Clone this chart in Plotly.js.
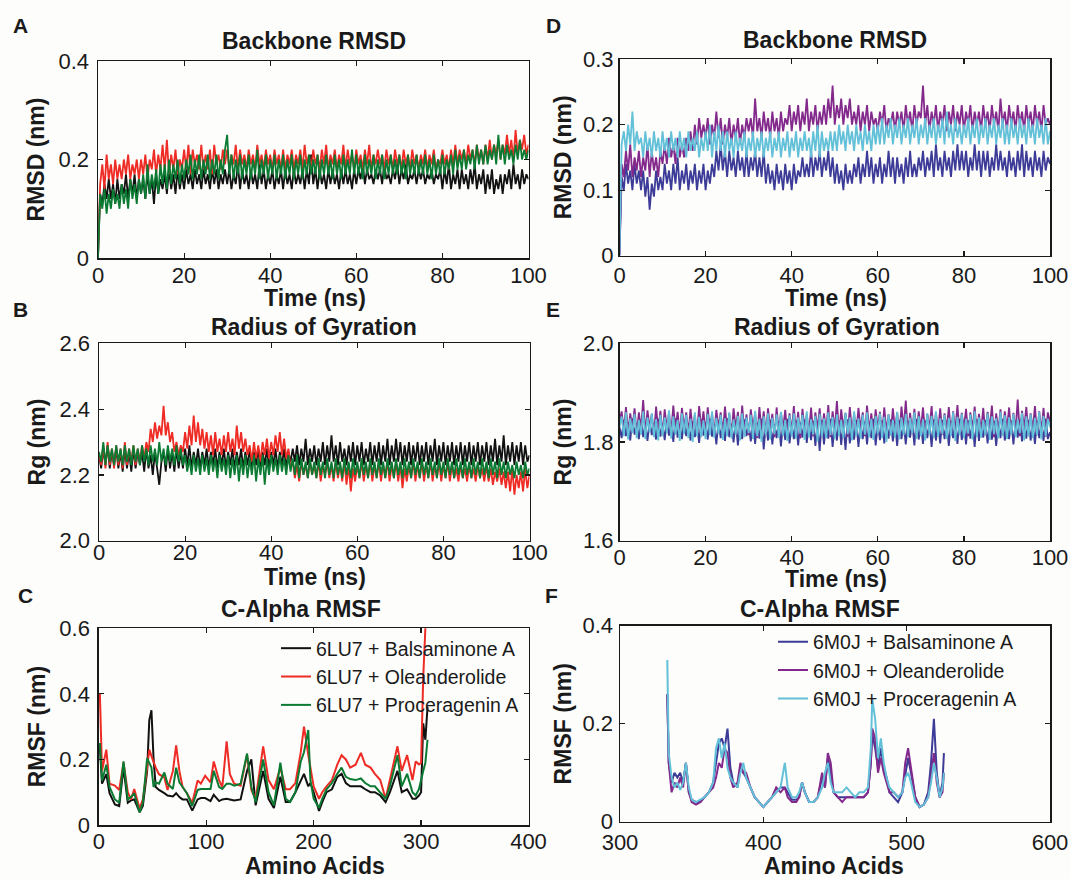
<!DOCTYPE html>
<html>
<head>
<meta charset="utf-8">
<script src="https://cdn.plot.ly/plotly-3.0.1.min.js"></script>
<style>
html,body{margin:0;padding:0;background:#fdfdfb;}
#chart{width:1070px;height:879px;}
</style>
</head>
<body>
<div id="chart"></div>
<script>
// ---------- Panel A: Backbone RMSD (6LU7), time step 0.5 ns from 0 to 100 ns ----------
const rmsdA_Balsaminone = [
0,0.13,0.11,0.15,0.12,0.16,0.12,0.15,0.11,0.16,
0.12,0.15,0.13,0.17,0.12,0.16,0.13,0.17,0.12,0.16,
0.13,0.16,0.12,0.17,0.13,0.16,0.11,0.17,0.13,0.16,
0.14,0.17,0.13,0.18,0.14,0.17,0.13,0.18,0.14,0.17,
0.14,0.18,0.15,0.17,0.14,0.18,0.15,0.17,0.14,0.18,
0.15,0.17,0.14,0.18,0.15,0.18,0.14,0.17,0.15,0.18,
0.15,0.18,0.14,0.17,0.15,0.19,0.14,0.18,0.15,0.17,
0.14,0.18,0.15,0.17,0.14,0.19,0.15,0.18,0.14,0.17,
0.15,0.18,0.14,0.17,0.15,0.18,0.14,0.18,0.15,0.17,
0.14,0.18,0.15,0.17,0.15,0.18,0.14,0.18,0.15,0.21,
0.15,0.18,0.14,0.18,0.15,0.17,0.14,0.18,0.15,0.18,
0.15,0.17,0.14,0.18,0.15,0.18,0.15,0.17,0.14,0.18,
0.15,0.18,0.16,0.19,0.15,0.18,0.16,0.17,0.15,0.18,
0.16,0.18,0.15,0.19,0.16,0.17,0.15,0.18,0.16,0.19,
0.15,0.18,0.16,0.19,0.15,0.17,0.16,0.18,0.15,0.18,
0.16,0.18,0.15,0.17,0.16,0.18,0.15,0.17,0.16,0.18,
0.14,0.18,0.15,0.19,0.14,0.17,0.15,0.18,0.14,0.18,
0.15,0.17,0.14,0.18,0.15,0.19,0.14,0.17,0.15,0.18,
0.13,0.17,0.14,0.18,0.13,0.16,0.14,0.17,0.13,0.17,
0.15,0.18,0.14,0.19,0.15,0.17,0.14,0.18,0.15,0.17,
0.16];
const rmsdA_Oleanderolide = [
0,0.15,0.19,0.14,0.21,0.16,0.19,0.15,0.20,0.16,
0.19,0.16,0.20,0.17,0.21,0.16,0.19,0.17,0.20,0.16,
0.20,0.17,0.21,0.16,0.20,0.18,0.22,0.17,0.21,0.18,
0.23,0.18,0.24,0.17,0.21,0.18,0.22,0.17,0.20,0.18,
0.22,0.18,0.23,0.17,0.22,0.19,0.21,0.18,0.23,0.18,
0.21,0.18,0.22,0.17,0.23,0.19,0.21,0.18,0.22,0.19,
0.22,0.18,0.21,0.19,0.23,0.18,0.22,0.19,0.21,0.18,
0.22,0.19,0.21,0.18,0.23,0.19,0.21,0.18,0.22,0.19,
0.21,0.18,0.22,0.19,0.21,0.18,0.22,0.18,0.21,0.19,
0.22,0.18,0.21,0.19,0.22,0.18,0.23,0.19,0.21,0.18,
0.22,0.19,0.21,0.18,0.22,0.19,0.23,0.18,0.21,0.19,
0.22,0.18,0.21,0.19,0.23,0.18,0.22,0.19,0.21,0.18,
0.22,0.19,0.21,0.18,0.22,0.19,0.23,0.18,0.21,0.19,
0.22,0.19,0.21,0.18,0.22,0.19,0.21,0.18,0.22,0.19,
0.21,0.18,0.22,0.19,0.21,0.18,0.22,0.19,0.21,0.18,
0.21,0.19,0.22,0.18,0.21,0.19,0.22,0.18,0.20,0.19,
0.22,0.19,0.21,0.18,0.22,0.19,0.23,0.19,0.22,0.20,
0.22,0.19,0.23,0.20,0.22,0.19,0.23,0.20,0.22,0.19,
0.23,0.20,0.24,0.20,0.23,0.21,0.24,0.20,0.23,0.21,
0.25,0.21,0.24,0.20,0.26,0.21,0.24,0.22,0.25,0.21,
0.23];
const rmsdA_Proceragenin = [
0,0.13,0.10,0.14,0.09,0.13,0.10,0.14,0.11,0.13,
0.10,0.15,0.11,0.14,0.10,0.16,0.12,0.15,0.11,0.16,
0.13,0.17,0.12,0.19,0.13,0.17,0.14,0.18,0.13,0.19,
0.15,0.19,0.14,0.20,0.15,0.19,0.16,0.20,0.15,0.19,
0.16,0.20,0.17,0.21,0.16,0.20,0.17,0.21,0.16,0.20,
0.17,0.21,0.16,0.20,0.17,0.21,0.16,0.20,0.17,0.22,
0.25,0.17,0.21,0.16,0.20,0.17,0.21,0.16,0.20,0.17,
0.21,0.16,0.20,0.17,0.22,0.16,0.20,0.17,0.21,0.16,
0.20,0.17,0.21,0.16,0.20,0.17,0.21,0.16,0.20,0.17,
0.21,0.16,0.20,0.17,0.21,0.16,0.20,0.17,0.21,0.17,
0.20,0.17,0.21,0.16,0.20,0.17,0.21,0.17,0.20,0.16,
0.21,0.17,0.20,0.16,0.21,0.17,0.20,0.17,0.22,0.17,
0.21,0.17,0.20,0.16,0.21,0.17,0.20,0.17,0.21,0.16,
0.20,0.17,0.21,0.16,0.20,0.17,0.21,0.17,0.20,0.17,
0.21,0.17,0.20,0.16,0.21,0.17,0.20,0.17,0.21,0.17,
0.20,0.17,0.21,0.17,0.20,0.16,0.21,0.17,0.20,0.17,
0.21,0.17,0.20,0.18,0.21,0.17,0.22,0.18,0.21,0.18,
0.22,0.18,0.21,0.19,0.22,0.18,0.23,0.19,0.22,0.19,
0.23,0.19,0.22,0.20,0.23,0.19,0.25,0.20,0.23,0.19,
0.23,0.20,0.22,0.19,0.23,0.20,0.24,0.20,0.22,0.20,
0.22];

// ---------- Panel B: Radius of gyration (6LU7) ----------
const rgB_Balsaminone = [
2.26,2.22,2.28,2.23,2.29,2.22,2.27,2.23,2.28,2.22,
2.27,2.21,2.28,2.22,2.27,2.21,2.28,2.22,2.27,2.23,
2.27,2.21,2.28,2.22,2.26,2.20,2.27,2.22,2.17,2.24,
2.27,2.21,2.28,2.22,2.27,2.21,2.28,2.22,2.27,2.22,
2.28,2.23,2.29,2.22,2.27,2.23,2.28,2.22,2.27,2.23,
2.28,2.22,2.27,2.23,2.28,2.22,2.27,2.23,2.28,2.22,
2.27,2.23,2.28,2.22,2.27,2.23,2.28,2.22,2.27,2.23,
2.28,2.22,2.27,2.23,2.28,2.22,2.27,2.23,2.28,2.22,
2.27,2.23,2.28,2.22,2.27,2.23,2.28,2.22,2.27,2.24,
2.28,2.24,2.29,2.23,2.28,2.24,2.31,2.23,2.28,2.24,
2.29,2.23,2.28,2.24,2.30,2.23,2.29,2.24,2.32,2.24,
2.29,2.23,2.30,2.24,2.28,2.23,2.29,2.24,2.30,2.23,
2.29,2.24,2.30,2.23,2.28,2.24,2.30,2.23,2.29,2.24,
2.30,2.23,2.29,2.24,2.31,2.23,2.29,2.24,2.31,2.24,
2.30,2.23,2.29,2.24,2.30,2.23,2.29,2.24,2.30,2.23,
2.29,2.24,2.30,2.23,2.29,2.24,2.31,2.23,2.29,2.24,
2.30,2.23,2.29,2.24,2.30,2.23,2.29,2.24,2.30,2.23,
2.29,2.24,2.30,2.23,2.29,2.24,2.30,2.23,2.29,2.24,
2.30,2.23,2.29,2.24,2.31,2.23,2.29,2.24,2.32,2.23,
2.29,2.24,2.30,2.23,2.29,2.24,2.30,2.23,2.29,2.24,
2.26];
const rgB_Oleanderolide = [
2.26,2.23,2.29,2.22,2.30,2.23,2.28,2.22,2.29,2.23,
2.28,2.22,2.30,2.23,2.28,2.24,2.29,2.23,2.28,2.24,
2.29,2.25,2.30,2.27,2.34,2.30,2.36,2.31,2.35,2.32,
2.41,2.32,2.36,2.30,2.33,2.27,2.30,2.26,2.29,2.27,
2.33,2.28,2.35,2.29,2.38,2.30,2.36,2.29,2.34,2.28,
2.33,2.27,2.32,2.26,2.33,2.27,2.31,2.26,2.32,2.27,
2.33,2.27,2.31,2.26,2.35,2.28,2.33,2.27,2.31,2.26,
2.29,2.24,2.30,2.25,2.29,2.24,2.30,2.26,2.31,2.25,
2.30,2.26,2.32,2.27,2.33,2.26,2.31,2.25,2.28,2.22,
2.24,2.19,2.23,2.18,2.24,2.20,2.23,2.19,2.24,2.20,
2.23,2.19,2.24,2.18,2.23,2.20,2.24,2.19,2.23,2.18,
2.24,2.19,2.23,2.18,2.24,2.17,2.23,2.15,2.22,2.18,
2.23,2.19,2.24,2.18,2.23,2.19,2.24,2.18,2.23,2.19,
2.24,2.18,2.23,2.19,2.24,2.18,2.23,2.19,2.24,2.18,
2.23,2.16,2.22,2.18,2.23,2.19,2.24,2.18,2.23,2.19,
2.24,2.18,2.23,2.19,2.24,2.18,2.23,2.19,2.24,2.18,
2.23,2.19,2.24,2.18,2.23,2.19,2.22,2.18,2.23,2.19,
2.22,2.18,2.23,2.19,2.22,2.18,2.23,2.19,2.22,2.18,
2.23,2.18,2.22,2.17,2.21,2.18,2.22,2.17,2.21,2.16,
2.21,2.15,2.22,2.14,2.20,2.16,2.21,2.15,2.22,2.16,
2.20];
const rgB_Proceragenin = [
2.27,2.24,2.30,2.23,2.29,2.24,2.28,2.23,2.29,2.24,
2.28,2.23,2.29,2.24,2.28,2.23,2.29,2.24,2.28,2.23,
2.29,2.24,2.28,2.23,2.29,2.24,2.28,2.23,2.30,2.24,
2.28,2.23,2.29,2.24,2.28,2.23,2.29,2.24,2.28,2.23,
2.26,2.21,2.25,2.20,2.26,2.21,2.25,2.20,2.26,2.21,
2.25,2.20,2.26,2.21,2.25,2.19,2.26,2.21,2.25,2.20,
2.26,2.19,2.25,2.20,2.26,2.18,2.25,2.20,2.26,2.19,
2.25,2.20,2.26,2.18,2.25,2.20,2.26,2.17,2.25,2.20,
2.26,2.21,2.25,2.20,2.26,2.21,2.25,2.20,2.26,2.21,
2.25,2.20,2.26,2.19,2.25,2.20,2.24,2.19,2.25,2.20,
2.24,2.19,2.25,2.20,2.24,2.19,2.25,2.20,2.24,2.19,
2.25,2.20,2.24,2.19,2.25,2.20,2.24,2.19,2.25,2.20,
2.24,2.19,2.25,2.20,2.24,2.19,2.25,2.20,2.24,2.19,
2.25,2.20,2.24,2.19,2.25,2.20,2.24,2.19,2.25,2.20,
2.24,2.19,2.25,2.20,2.24,2.19,2.25,2.20,2.24,2.19,
2.25,2.20,2.24,2.19,2.25,2.20,2.24,2.19,2.25,2.20,
2.24,2.19,2.25,2.20,2.24,2.19,2.25,2.20,2.24,2.19,
2.25,2.20,2.24,2.19,2.25,2.20,2.24,2.19,2.25,2.20,
2.24,2.19,2.25,2.20,2.24,2.19,2.25,2.20,2.24,2.19,
2.24,2.20,2.23,2.19,2.24,2.20,2.23,2.19,2.24,2.20,
2.22];

// ---------- Panel C: C-alpha RMSF (6LU7) ----------
const residuesC = [1,3,7,10,15,19,23,27,30,33,38,41,45,47,49,51,53,56,61,64,69,72,75,78,82,87,92,95,99,104,107,112,115,119,122,126,132,138,142,146,153,158,163,169,174,178,183,188,191,195,197,200,205,208,212,217,222,226,230,234,239,244,248,253,257,262,267,271,278,282,287,292,295,298,300,302,304,306];
const rmsfC_Balsaminone = [0.24,0.126,0.155,0.097,0.063,0.058,0.175,0.068,0.075,0.078,0.039,0.058,0.165,0.32,0.35,0.2,0.116,0.107,0.097,0.09,0.087,0.097,0.085,0.078,0.078,0.044,0.078,0.082,0.082,0.073,0.092,0.073,0.078,0.08,0.078,0.075,0.078,0.165,0.2,0.06,0.165,0.08,0.052,0.147,0.07,0.07,0.1,0.137,0.156,0.118,0.128,0.1,0.043,0.07,0.1,0.109,0.147,0.156,0.128,0.118,0.118,0.118,0.109,0.1,0.1,0.09,0.07,0.1,0.165,0.1,0.109,0.08,0.08,0.09,0.1,0.31,0.26,0.36];
const rmsfC_Oleanderolide = [0.40,0.165,0.23,0.126,0.12,0.107,0.19,0.10,0.078,0.11,0.05,0.078,0.175,0.23,0.21,0.19,0.175,0.155,0.145,0.107,0.165,0.243,0.165,0.116,0.097,0.068,0.136,0.126,0.15,0.13,0.194,0.136,0.116,0.255,0.155,0.126,0.12,0.213,0.107,0.08,0.24,0.137,0.109,0.175,0.109,0.109,0.128,0.222,0.3,0.213,0.175,0.118,0.08,0.1,0.118,0.137,0.184,0.213,0.2,0.175,0.184,0.22,0.184,0.175,0.156,0.137,0.08,0.137,0.24,0.165,0.213,0.137,0.194,0.185,0.19,0.45,0.6,0.65];
const rmsfC_Proceragenin = [0.25,0.136,0.184,0.116,0.078,0.068,0.194,0.078,0.085,0.097,0.039,0.068,0.204,0.19,0.175,0.116,0.13,0.126,0.16,0.126,0.11,0.175,0.13,0.116,0.097,0.058,0.107,0.11,0.11,0.11,0.165,0.116,0.11,0.126,0.126,0.12,0.126,0.218,0.116,0.07,0.2,0.1,0.06,0.19,0.08,0.07,0.1,0.194,0.222,0.29,0.137,0.08,0.052,0.08,0.109,0.128,0.156,0.175,0.147,0.14,0.137,0.142,0.128,0.118,0.118,0.1,0.08,0.118,0.213,0.118,0.156,0.1,0.09,0.109,0.14,0.165,0.19,0.26];

// ---------- Panel D: Backbone RMSD (6M0J) ----------
const rmsdD_Balsaminone = [
0,0.12,0.10,0.14,0.11,0.13,0.10,0.14,0.11,0.13,
0.10,0.13,0.09,0.12,0.07,0.11,0.09,0.13,0.10,0.12,
0.10,0.14,0.11,0.13,0.10,0.14,0.11,0.15,0.10,0.13,
0.11,0.14,0.10,0.13,0.11,0.14,0.10,0.13,0.11,0.14,
0.10,0.13,0.11,0.14,0.12,0.16,0.13,0.17,0.13,0.16,
0.12,0.16,0.13,0.15,0.12,0.16,0.13,0.15,0.12,0.16,
0.12,0.15,0.13,0.16,0.12,0.15,0.12,0.16,0.11,0.14,
0.11,0.13,0.10,0.14,0.11,0.13,0.10,0.14,0.11,0.13,
0.10,0.14,0.11,0.13,0.12,0.15,0.12,0.14,0.12,0.16,
0.12,0.15,0.13,0.16,0.12,0.15,0.13,0.16,0.12,0.15,
0.11,0.14,0.11,0.13,0.10,0.14,0.11,0.13,0.11,0.14,
0.12,0.15,0.11,0.14,0.12,0.16,0.12,0.15,0.11,0.14,
0.12,0.15,0.11,0.14,0.12,0.16,0.12,0.15,0.11,0.15,
0.12,0.14,0.11,0.15,0.12,0.16,0.12,0.14,0.12,0.15,
0.13,0.16,0.12,0.15,0.13,0.16,0.12,0.17,0.13,0.15,
0.12,0.16,0.13,0.15,0.12,0.16,0.13,0.17,0.13,0.16,
0.13,0.16,0.12,0.15,0.13,0.17,0.13,0.16,0.12,0.16,
0.13,0.16,0.12,0.15,0.13,0.17,0.13,0.16,0.13,0.15,
0.12,0.16,0.13,0.15,0.12,0.16,0.13,0.17,0.12,0.16,
0.13,0.15,0.12,0.16,0.13,0.15,0.12,0.16,0.13,0.15,
0.14];
const rmsdD_Oleanderolide = [
0,0.14,0.12,0.16,0.13,0.17,0.12,0.15,0.13,0.16,
0.12,0.15,0.13,0.17,0.12,0.16,0.13,0.15,0.12,0.16,
0.14,0.17,0.14,0.18,0.15,0.17,0.14,0.18,0.15,0.17,
0.15,0.18,0.16,0.19,0.16,0.20,0.17,0.21,0.18,0.20,
0.18,0.21,0.17,0.20,0.18,0.22,0.18,0.21,0.17,0.20,
0.18,0.21,0.17,0.20,0.18,0.21,0.17,0.20,0.18,0.21,
0.19,0.21,0.18,0.24,0.19,0.21,0.18,0.22,0.19,0.21,
0.18,0.22,0.19,0.21,0.18,0.22,0.19,0.21,0.20,0.23,
0.19,0.22,0.20,0.23,0.19,0.22,0.20,0.24,0.19,0.22,
0.20,0.23,0.19,0.22,0.20,0.23,0.20,0.24,0.21,0.26,
0.20,0.23,0.21,0.24,0.20,0.23,0.21,0.24,0.20,0.22,
0.20,0.23,0.19,0.22,0.20,0.23,0.19,0.22,0.20,0.21,
0.19,0.22,0.20,0.23,0.19,0.21,0.20,0.22,0.19,0.22,
0.20,0.22,0.19,0.23,0.20,0.22,0.19,0.23,0.20,0.22,
0.21,0.26,0.20,0.23,0.19,0.22,0.20,0.23,0.19,0.22,
0.20,0.23,0.19,0.22,0.20,0.23,0.19,0.22,0.20,0.23,
0.19,0.22,0.20,0.23,0.19,0.22,0.20,0.22,0.19,0.23,
0.20,0.22,0.19,0.23,0.20,0.22,0.19,0.24,0.20,0.22,
0.19,0.23,0.20,0.22,0.19,0.23,0.20,0.22,0.19,0.23,
0.20,0.22,0.19,0.23,0.20,0.22,0.19,0.23,0.20,0.21,
0.20];
const rmsdD_Proceragenin = [
0,0.17,0.19,0.16,0.20,0.17,0.22,0.16,0.19,0.17,
0.18,0.15,0.19,0.16,0.18,0.15,0.19,0.16,0.18,0.15,
0.19,0.16,0.18,0.15,0.19,0.16,0.18,0.15,0.19,0.16,
0.18,0.15,0.19,0.16,0.18,0.16,0.19,0.15,0.18,0.16,
0.19,0.16,0.20,0.15,0.19,0.16,0.20,0.16,0.19,0.15,
0.19,0.16,0.18,0.15,0.19,0.16,0.18,0.16,0.19,0.15,
0.18,0.16,0.19,0.15,0.18,0.16,0.19,0.15,0.18,0.16,
0.19,0.15,0.18,0.16,0.19,0.15,0.18,0.16,0.19,0.15,
0.18,0.16,0.19,0.15,0.18,0.16,0.19,0.16,0.18,0.15,
0.19,0.16,0.20,0.15,0.19,0.16,0.18,0.16,0.19,0.16,
0.19,0.16,0.20,0.17,0.19,0.16,0.20,0.17,0.19,0.16,
0.20,0.17,0.19,0.16,0.20,0.17,0.19,0.16,0.20,0.17,
0.20,0.17,0.21,0.17,0.20,0.18,0.21,0.17,0.20,0.18,
0.21,0.17,0.20,0.18,0.21,0.17,0.20,0.18,0.21,0.17,
0.20,0.18,0.21,0.17,0.20,0.18,0.21,0.17,0.20,0.18,
0.21,0.17,0.22,0.18,0.20,0.17,0.21,0.18,0.20,0.17,
0.20,0.18,0.21,0.17,0.20,0.18,0.21,0.17,0.20,0.18,
0.21,0.17,0.20,0.18,0.21,0.17,0.20,0.18,0.21,0.17,
0.20,0.17,0.21,0.18,0.20,0.17,0.21,0.18,0.20,0.17,
0.21,0.18,0.20,0.17,0.21,0.18,0.20,0.17,0.21,0.17,
0.19];

// ---------- Panel E: Radius of gyration (6M0J) ----------
const rgE_Balsaminone = [
1.83,1.808,1.845,1.812,1.84,1.803,1.848,1.815,1.838,1.806,
1.846,1.81,1.836,1.802,1.843,1.814,1.839,1.805,1.847,1.811,
1.837,1.804,1.844,1.813,1.84,1.8,1.848,1.809,1.835,1.806,
1.845,1.812,1.838,1.803,1.842,1.81,1.836,1.798,1.846,1.813,
1.839,1.805,1.847,1.811,1.836,1.795,1.843,1.808,1.84,1.802,
1.848,1.81,1.837,1.799,1.844,1.793,1.839,1.806,1.846,1.812,
1.835,1.801,1.843,1.796,1.84,1.807,1.847,1.785,1.838,1.803,
1.845,1.795,1.836,1.808,1.842,1.791,1.839,1.804,1.847,1.797,
1.837,1.806,1.844,1.793,1.84,1.809,1.846,1.798,1.835,1.804,
1.843,1.792,1.838,1.782,1.845,1.795,1.84,1.807,1.847,1.79,
1.836,1.803,1.844,1.794,1.839,1.784,1.846,1.797,1.838,1.805,
1.845,1.79,1.837,1.806,1.842,1.795,1.84,1.808,1.847,1.793,
1.836,1.804,1.844,1.797,1.839,1.807,1.846,1.801,1.838,1.792,
1.845,1.806,1.837,1.795,1.843,1.809,1.84,1.793,1.847,1.805,
1.836,1.796,1.844,1.808,1.839,1.79,1.846,1.803,1.838,1.797,
1.845,1.806,1.837,1.792,1.843,1.808,1.84,1.796,1.847,1.804,
1.836,1.795,1.844,1.807,1.839,1.79,1.846,1.802,1.838,1.809,
1.845,1.797,1.837,1.805,1.843,1.792,1.84,1.808,1.847,1.803,
1.836,1.806,1.844,1.795,1.839,1.809,1.846,1.801,1.838,1.807,
1.845,1.803,1.837,1.796,1.843,1.808,1.84,1.802,1.847,1.806,
1.82];
const rgE_Oleanderolide = [
1.84,1.862,1.822,1.871,1.818,1.858,1.826,1.868,1.815,1.86,
1.824,1.885,1.817,1.864,1.828,1.857,1.812,1.872,1.821,1.863,
1.815,1.866,1.826,1.859,1.818,1.874,1.823,1.861,1.814,1.869,
1.827,1.86,1.816,1.867,1.822,1.855,1.813,1.873,1.825,1.862,
1.818,1.87,1.824,1.857,1.814,1.865,1.828,1.86,1.817,1.872,
1.823,1.858,1.812,1.868,1.826,1.861,1.816,1.874,1.821,1.856,
1.814,1.866,1.827,1.859,1.808,1.871,1.82,1.862,1.815,1.868,
1.825,1.857,1.81,1.87,1.818,1.86,1.826,1.865,1.813,1.858,
1.82,1.873,1.815,1.861,1.807,1.867,1.824,1.856,1.817,1.87,
1.812,1.86,1.826,1.868,1.815,1.858,1.821,1.875,1.81,1.862,
1.824,1.883,1.814,1.866,1.827,1.859,1.811,1.871,1.82,1.857,
1.816,1.869,1.825,1.86,1.812,1.874,1.822,1.858,1.815,1.866,
1.827,1.861,1.813,1.87,1.82,1.856,1.816,1.868,1.823,1.86,
1.81,1.872,1.826,1.884,1.815,1.859,1.821,1.867,1.812,1.862,
1.824,1.87,1.817,1.857,1.826,1.873,1.811,1.86,1.82,1.868,
1.815,1.858,1.825,1.871,1.813,1.862,1.822,1.875,1.816,1.859,
1.827,1.867,1.812,1.86,1.824,1.872,1.817,1.857,1.821,1.869,
1.814,1.861,1.826,1.874,1.81,1.858,1.823,1.866,1.815,1.862,
1.825,1.87,1.816,1.859,1.822,1.886,1.812,1.863,1.827,1.871,
1.817,1.858,1.824,1.873,1.814,1.862,1.82,1.869,1.811,1.86,
1.84];
const rgE_Proceragenin = [
1.83,1.852,1.812,1.86,1.805,1.848,1.818,1.857,1.808,1.845,
1.815,1.862,1.806,1.85,1.82,1.858,1.81,1.846,1.803,1.855,
1.812,1.85,1.818,1.864,1.807,1.852,1.815,1.845,1.802,1.858,
1.816,1.855,1.808,1.847,1.80,1.86,1.812,1.851,1.81,1.844,
1.806,1.857,1.814,1.862,1.809,1.849,1.817,1.855,1.804,1.848,
1.812,1.86,1.807,1.846,1.815,1.853,1.803,1.858,1.81,1.85,
1.818,1.855,1.806,1.863,1.812,1.847,1.80,1.852,1.814,1.858,
1.805,1.849,1.816,1.856,1.809,1.861,1.813,1.845,1.802,1.854,
1.811,1.858,1.807,1.85,1.817,1.855,1.804,1.862,1.81,1.846,
1.815,1.853,1.801,1.857,1.812,1.848,1.808,1.86,1.814,1.851,
1.806,1.856,1.813,1.845,1.809,1.859,1.816,1.85,1.803,1.862,
1.812,1.848,1.807,1.855,1.815,1.86,1.81,1.847,1.804,1.853,
1.817,1.858,1.808,1.851,1.80,1.856,1.813,1.845,1.809,1.861,
1.805,1.85,1.814,1.857,1.81,1.849,1.818,1.86,1.806,1.852,
1.812,1.846,1.803,1.858,1.815,1.853,1.808,1.862,1.811,1.848,
1.816,1.855,1.806,1.849,1.812,1.86,1.802,1.851,1.814,1.857,
1.808,1.847,1.817,1.856,1.805,1.862,1.811,1.85,1.809,1.845,
1.813,1.858,1.804,1.852,1.816,1.848,1.807,1.861,1.812,1.854,
1.806,1.85,1.815,1.857,1.81,1.846,1.818,1.859,1.803,1.852,
1.811,1.856,1.808,1.849,1.814,1.861,1.805,1.853,1.812,1.847,
1.83];

// ---------- Panel F: C-alpha RMSF (6M0J) ----------
const residuesF = [333,334,336,338,340,342,344,346,348,350,353,356,359,362,365,367,369,371,373,375,377,379,382,384,386,388,391,394,397,400,403,406,409,412,415,417,420,423,425,427,429,432,435,438,441,443,445,447,449,452,455,458,461,464,467,470,473,475,476,478,480,482,484,486,488,491,494,497,499,501,503,506,509,512,515,517,519,521,523,525,526];
const rmsfF_Balsaminone = [0.26,0.12,0.08,0.10,0.09,0.10,0.08,0.12,0.06,0.045,0.04,0.04,0.05,0.06,0.08,0.12,0.16,0.17,0.15,0.19,0.11,0.08,0.07,0.11,0.10,0.09,0.07,0.05,0.04,0.03,0.04,0.05,0.06,0.07,0.07,0.06,0.045,0.045,0.05,0.08,0.06,0.04,0.04,0.05,0.09,0.07,0.13,0.10,0.06,0.05,0.05,0.05,0.05,0.05,0.05,0.05,0.06,0.12,0.18,0.15,0.11,0.15,0.11,0.09,0.06,0.05,0.04,0.06,0.10,0.13,0.10,0.05,0.03,0.035,0.06,0.12,0.21,0.10,0.05,0.08,0.14];
const rmsfF_Oleanderolide = [0.26,0.12,0.06,0.08,0.07,0.09,0.07,0.12,0.06,0.04,0.035,0.04,0.05,0.06,0.07,0.09,0.12,0.11,0.15,0.14,0.09,0.07,0.08,0.12,0.10,0.10,0.07,0.05,0.04,0.03,0.04,0.05,0.07,0.06,0.07,0.05,0.04,0.04,0.05,0.08,0.06,0.04,0.04,0.05,0.10,0.07,0.14,0.12,0.06,0.05,0.04,0.05,0.05,0.05,0.05,0.05,0.06,0.12,0.19,0.17,0.10,0.13,0.10,0.08,0.06,0.06,0.05,0.06,0.12,0.15,0.11,0.05,0.03,0.035,0.05,0.09,0.14,0.08,0.05,0.06,0.10];
const rmsfF_Proceragenin = [0.33,0.14,0.09,0.07,0.08,0.065,0.08,0.12,0.07,0.045,0.04,0.045,0.05,0.06,0.08,0.15,0.17,0.13,0.16,0.11,0.09,0.08,0.07,0.10,0.12,0.09,0.07,0.05,0.04,0.03,0.04,0.05,0.06,0.07,0.12,0.07,0.05,0.05,0.06,0.08,0.06,0.04,0.04,0.05,0.07,0.10,0.12,0.08,0.06,0.06,0.06,0.07,0.06,0.05,0.06,0.06,0.07,0.15,0.25,0.21,0.13,0.17,0.12,0.09,0.07,0.06,0.05,0.06,0.09,0.10,0.08,0.04,0.03,0.035,0.05,0.08,0.12,0.09,0.05,0.07,0.10];

const namesLU7 = ['6LU7 + Balsaminone A','6LU7 + Oleanderolide','6LU7 + Proceragenin A'];
const namesM0J = ['6M0J + Balsaminone A','6M0J + Oleanderolide','6M0J + Proceragenin A'];
const colorsLU7 = ['#111111','#ee2b24','#0b7a32'];
const colorsM0J = ['#3d3b98','#83298c','#62c0d8'];

const FONT = 'Liberation Sans, Arial, Helvetica, sans-serif';
const INK = '#1a1a1a';
const W = 1070, H = 879;

function ts(y, xa, ya, color) {
  return {type:'scatter', mode:'lines', x0:0, dx:0.5, y:y, xaxis:xa, yaxis:ya,
    line:{color:color, width:1.8}, showlegend:false, hoverinfo:'skip'};
}
function rmsf(x, y, xa, ya, color, name, leg) {
  return {type:'scatter', mode:'lines', x:x, y:y, xaxis:xa, yaxis:ya, name:name,
    line:{color:color, width:2}, legend:leg, hoverinfo:'skip'};
}

const data = [
  ts(rmsdA_Balsaminone,'x','y',colorsLU7[0]),
  ts(rmsdA_Oleanderolide,'x','y',colorsLU7[1]),
  ts(rmsdA_Proceragenin,'x','y',colorsLU7[2]),
  ts(rgB_Balsaminone,'x2','y2',colorsLU7[0]),
  ts(rgB_Oleanderolide,'x2','y2',colorsLU7[1]),
  ts(rgB_Proceragenin,'x2','y2',colorsLU7[2]),
  rmsf(residuesC,rmsfC_Balsaminone,'x3','y3',colorsLU7[0],namesLU7[0],'legend'),
  rmsf(residuesC,rmsfC_Oleanderolide,'x3','y3',colorsLU7[1],namesLU7[1],'legend'),
  rmsf(residuesC,rmsfC_Proceragenin,'x3','y3',colorsLU7[2],namesLU7[2],'legend'),
  ts(rmsdD_Balsaminone,'x4','y4',colorsM0J[0]),
  ts(rmsdD_Oleanderolide,'x4','y4',colorsM0J[1]),
  ts(rmsdD_Proceragenin,'x4','y4',colorsM0J[2]),
  ts(rgE_Balsaminone,'x5','y5',colorsM0J[0]),
  ts(rgE_Oleanderolide,'x5','y5',colorsM0J[1]),
  ts(rgE_Proceragenin,'x5','y5',colorsM0J[2]),
  rmsf(residuesF,rmsfF_Balsaminone,'x6','y6',colorsM0J[0],namesM0J[0],'legend2'),
  rmsf(residuesF,rmsfF_Oleanderolide,'x6','y6',colorsM0J[1],namesM0J[1],'legend2'),
  rmsf(residuesF,rmsfF_Proceragenin,'x6','y6',colorsM0J[2],namesM0J[2],'legend2')
];

// plot boxes in pixels: [left, right, top, bottom]
const boxes = {
  A:[98,528.5,61,258], B:[99,529.5,343.3,540.7], C:[98.8,528.5,628.3,825],
  D:[619.5,1050,59.3,255.5], E:[619.5,1050,343.3,540.7], F:[620,1050,625.7,821.7]
};
const dx = b => [b[0]/W, b[1]/W];
const dy = b => [1-b[3]/H, 1-b[2]/H];

function axis(extra) {
  return Object.assign({
    showline:true, linecolor:INK, linewidth:1.5, mirror:'ticks',
    ticks:'inside', ticklen:5, tickwidth:1.2, tickcolor:INK,
    showgrid:false, zeroline:false, fixedrange:true,
    tickfont:{family:FONT, size:22, color:INK}
  }, extra);
}
function yt(text, so){ return {text:text, font:{family:FONT, size:23, color:INK, weight:700}, standoff:so}; }

const layout = {
  width:W, height:H, margin:{l:0,r:0,t:0,b:0},
  paper_bgcolor:'#fdfdfb', plot_bgcolor:'#fdfdfb',
  font:{family:FONT, color:INK},
  xaxis: axis({domain:dx(boxes.A), anchor:'y', range:[0,100], dtick:20, ticklabelstandoff:-3}),
  yaxis: axis({domain:dy(boxes.A), anchor:'x', range:[0,0.4], dtick:0.2, ticklabelstandoff:3, title:yt('RMSD (nm)',7)}),
  xaxis2: axis({domain:dx(boxes.B), anchor:'y2', range:[0,100], dtick:20, ticklabelstandoff:-9}),
  yaxis2: axis({domain:dy(boxes.B), anchor:'x2', range:[2.0,2.6], dtick:0.2, tickformat:'.1f', ticklabelstandoff:3, title:yt('Rg (nm)',7)}),
  xaxis3: axis({domain:dx(boxes.C), anchor:'y3', range:[0,400], dtick:100, ticklabelstandoff:-4}),
  yaxis3: axis({domain:dy(boxes.C), anchor:'x3', range:[0,0.6], dtick:0.2, ticklabelstandoff:3, title:yt('RMSF (nm)',7)}),
  xaxis4: axis({domain:dx(boxes.D), anchor:'y4', range:[0,100], dtick:20, ticklabelstandoff:0}),
  yaxis4: axis({domain:dy(boxes.D), anchor:'x4', range:[0,0.3], dtick:0.1, ticklabelstandoff:0, title:yt('RMSD (nm)',5)}),
  xaxis5: axis({domain:dx(boxes.E), anchor:'y5', range:[0,100], dtick:20, ticklabelstandoff:-4}),
  yaxis5: axis({domain:dy(boxes.E), anchor:'x5', range:[1.6,2.0], dtick:0.2, tickformat:'.1f', ticklabelstandoff:0, title:yt('Rg (nm)',5)}),
  xaxis6: axis({domain:dx(boxes.F), anchor:'y6', range:[300,600], dtick:100, ticklabelstandoff:2.5}),
  yaxis6: axis({domain:dy(boxes.F), anchor:'x6', range:[0,0.4], dtick:0.2, ticklabelstandoff:1, title:yt('RMSF (nm)',4)}),
  legend: {x:276/W, y:1-629/H, xanchor:'left', yanchor:'top', bgcolor:'rgba(0,0,0,0)',
           font:{family:FONT, size:19.5, color:INK}, itemwidth:30, tracegroupgap:0},
  legend2:{x:773/W, y:1-622.5/H, xanchor:'left', yanchor:'top', bgcolor:'rgba(0,0,0,0)',
           font:{family:FONT, size:19.5, color:INK}, itemwidth:30, tracegroupgap:0},
  annotations: []
};

// panel titles and x-axis titles: [text, x centre px, y centre px]
const titles = [
  ['Backbone RMSD', 314, 40.5], ['Radius of Gyration', 313.5, 327], ['C-Alpha RMSF', 300.5, 609],
  ['Backbone RMSD', 835, 40], ['Radius of Gyration', 836.5, 327], ['C-Alpha RMSF', 820, 609],
  ['Time (ns)', 315, 298], ['Time (ns)', 315, 577], ['Amino Acids', 315, 865.5],
  ['Time (ns)', 835.5, 298], ['Time (ns)', 835.5, 578.5], ['Amino Acids', 834, 865.5]
];
titles.forEach(p => layout.annotations.push({
  text:p[0], xref:'paper', yref:'paper', x:p[1]/W, y:1-p[2]/H,
  xanchor:'center', yanchor:'middle', showarrow:false,
  font:{family:FONT, size:23, color:INK, weight:700}
}));
const letters = [['A',20,25],['B',20,309],['C',25,595.5],['D',553,25],['E',552.5,309],['F',551.5,595.5]];
letters.forEach(l => layout.annotations.push({
  text:l[0], xref:'paper', yref:'paper', x:l[1]/W, y:1-l[2]/H,
  xanchor:'center', yanchor:'middle', showarrow:false,
  font:{family:FONT, size:21, color:INK, weight:700}
}));

Plotly.newPlot('chart', data, layout, {staticPlot:true, displayModeBar:false});
</script>
</body>
</html>
